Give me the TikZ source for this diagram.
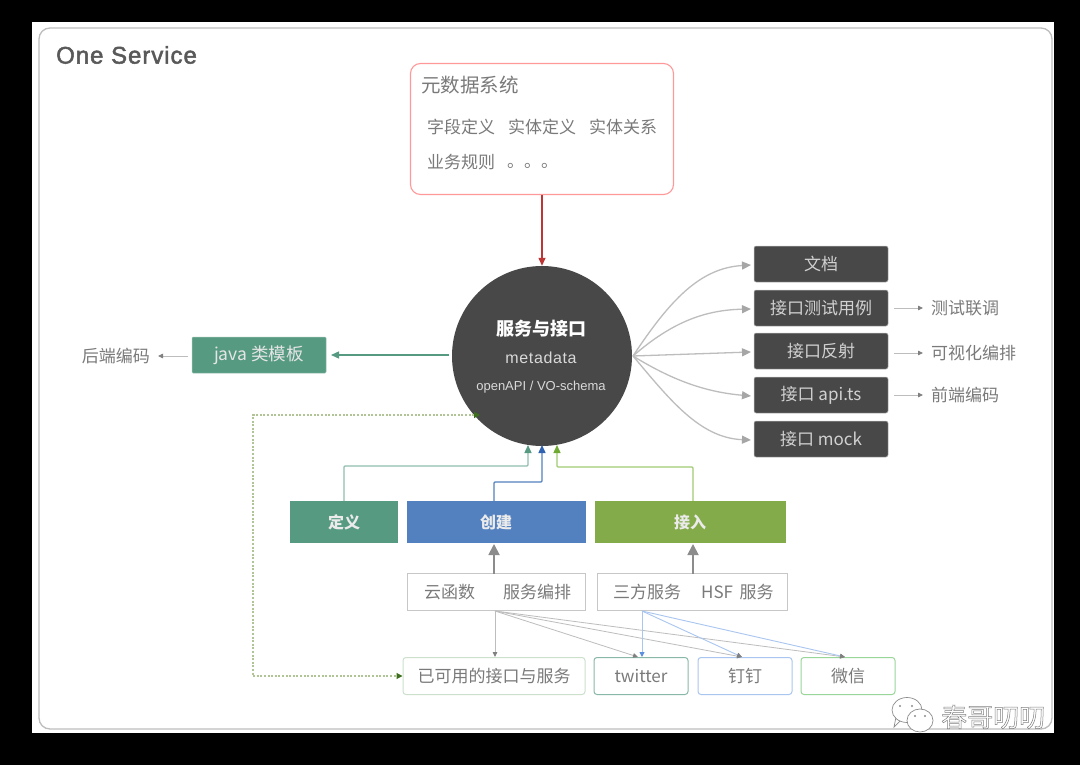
\documentclass[tikz,border=0pt]{standalone}
\usepackage{fontspec}
\setmainfont{Liberation Sans}
\newfontfamily\cjk{Noto Sans CJK SC}
\newfontfamily\titlefont[LetterSpace=4]{Liberation Sans}
\newfontfamily\spacedfont[LetterSpace=4]{Liberation Sans}
\usetikzlibrary{arrows.meta,shapes.geometric}
\definecolor{darkbox}{HTML}{484848}
\definecolor{txtgray}{HTML}{7A7A7A}
\definecolor{linegray}{HTML}{BDBDBD}
\definecolor{tealfill}{HTML}{569A82}
\definecolor{bluefill}{HTML}{5381C0}
\definecolor{greenfill}{HTML}{84AB4A}
\definecolor{softblue}{HTML}{A9C6F0}
\definecolor{loopgreen}{HTML}{B0C496}
\definecolor{loophead}{HTML}{3C6E1E}
\definecolor{redline}{HTML}{BE3535}
\definecolor{bluehead}{HTML}{2F62B0}
\definecolor{greenhead}{HTML}{6FA832}
\definecolor{softgreen}{HTML}{A2CC74}
\definecolor{twhead}{HTML}{5B90E0}
\tikzset{
 x=1pt,y=-1pt,
 lbl/.style={text=txtgray,inner sep=0pt,font=\cjk\fontsize{17}{19}\selectfont},
 darkbtn/.style={draw=linegray,line width=.5pt,fill=darkbox,rounded corners=2pt,minimum width=134pt,minimum height=36pt,inner sep=0pt,text=white!82!black,font=\cjk\fontsize{17}{19}\selectfont},
 solidbtn/.style={minimum height=42pt,inner sep=0pt,text=white!92!black,font=\cjk\bfseries\fontsize{16}{18}\selectfont},
 plainbox/.style={draw=black!22,line width=.8pt,minimum height=37pt,inner sep=0pt,fill=white},
 chan/.style={line width=1pt,rounded corners=3pt,minimum height=37pt,inner sep=0pt,fill=white,text=txtgray,font=\cjk\fontsize{17}{19}\selectfont},
 fan/.style={draw=linegray,line width=1.3pt,-{Triangle[length=9pt,width=8pt,color=black!35]}},
 thin/.style={draw=linegray,line width=.8pt,-{Triangle[length=5pt,width=4.5pt,color=black!50]}},
 blueln/.style={draw=softblue,line width=.9pt,-{Triangle[length=5pt,width=4.5pt,color=black!50]}},
 wmshape/.style={draw=black!45,fill=white,line width=.7pt},
}
\begin{document}
\begin{tikzpicture}
\useasboundingbox (0,0) rectangle (1080,765);
\fill[black] (0,0) rectangle (1080,765);
\fill[white] (32,22) rectangle (1054,733);
\draw[linegray,line width=1.3pt,rounded corners=11pt] (39,28) rectangle (1052,729);
\node[anchor=west,inner sep=0pt,text=black!65,font=\titlefont\fontsize{24}{26}\selectfont] (title) at (56,55) {\special{pdf:code 2 Tr 0.5 w}One Service\special{pdf:code 0 Tr}};

% metadata box
\node[draw=red!40!white,line width=1.1pt,rounded corners=10pt,minimum width=263pt,minimum height=131pt,inner sep=0pt] (meta) at (542,129) {};
\node[lbl,font=\cjk\fontsize{19.5}{21}\selectfont,anchor=west] (metat) at (421,85) {元数据系统};
\node[lbl,anchor=west] (m1) at (427,127) {字段定义};
\node[lbl,anchor=west] (m2) at (508,127) {实体定义};
\node[lbl,anchor=west] (m3) at (589,127) {实体关系};
\node[lbl,anchor=west] (m4) at (427,162) {业务规则};
\node[lbl,anchor=west] (m5) at (507,166) {。。。};

% centre
\node[circle,fill=darkbox,minimum size=180pt,inner sep=0pt] (svc) at (542,356) {};
\node[text=white,inner sep=0pt,font=\cjk\bfseries\fontsize{18}{20}\selectfont] (s1) at (541,329) {服务与接口};
\node[text=white!85!black,inner sep=0pt,font=\spacedfont\fontsize{16}{18}\selectfont] (s2) at (541,358) {metadata};
\node[text=white!85!black,inner sep=0pt,font=\fontsize{13}{15}\selectfont] (s3) at (541,387) {openAPI / VO-schema};
\draw[draw=redline,line width=1.3pt,-{Triangle[length=8pt,width=7pt]}] (meta.south) -- (svc.north);

% left
\node[fill=tealfill,draw=tealfill!60!white,line width=.5pt,rounded corners=1pt,minimum width=134pt,minimum height=36pt,inner sep=0pt,text=white!90!black,font=\cjk\fontsize{17.5}{19}\selectfont] (java) at (259,355) {java 类模板};
\node[lbl,anchor=east] (backend) at (150,356) {后端编码};
\coordinate (jst) at (449,355);
\coordinate (jend) at (331,355);
\draw[tealfill,line width=1.3pt,-{Triangle[length=8pt,width=7pt]}] (jst) -- (jend);
\coordinate (ja) at (188,356);
\coordinate (jb) at (158,356);
\draw[thin] (ja) -- (jb);

% right
\node[darkbtn] (d1) at (821,264) {文档};
\node[darkbtn] (d2) at (821,308) {接口测试用例};
\node[darkbtn] (d3) at (821,351) {接口反射};
\node[darkbtn] (d4) at (821,395) {接口 api.ts};
\node[darkbtn] (d5) at (821,439) {接口 mock};
\coordinate (hub) at (633,356);
\draw[fan] (hub) .. controls (670,300) and (700,268) .. (751,265);
\draw[fan] (hub) .. controls (672,322) and (705,310) .. (751,309);
\draw[fan] (hub) -- (751,352);
\draw[fan] (hub) .. controls (672,380) and (705,392) .. (751,396);
\draw[fan] (hub) .. controls (670,400) and (700,438) .. (751,440);
\node[lbl,anchor=west] (r2) at (931,308) {测试联调};
\node[lbl,anchor=west] (r3) at (931,353) {可视化编排};
\node[lbl,anchor=west] (r4) at (931,395) {前端编码};
\coordinate (a2) at (894,308);
\coordinate (a3) at (894,353);
\coordinate (a4) at (894,395);
\draw[thin] (a2) -- (923,308);
\draw[thin] (a3) -- (923,353);
\draw[thin] (a4) -- (923,395);

% actions
\node[solidbtn,fill=tealfill,minimum width=108pt] (def) at (344,522) {定义};
\node[solidbtn,fill=bluefill,minimum width=179pt] (cre) at (496,522) {创建};
\node[solidbtn,fill=greenfill,minimum width=191pt] (acc) at (690,522) {接入};
\draw[tealfill!65!white,line width=1.4pt,rounded corners=1pt,-{Triangle[length=8pt,width=7pt,color=tealfill]}] (def.north) |- (528,466) -- (528,445);
\draw[bluefill,line width=1.4pt,rounded corners=1pt,-{Triangle[length=8pt,width=7pt,color=bluehead]}] (cre.north -| 494,522) |- (542,482) -- (542,445);
\draw[softgreen,line width=1.4pt,rounded corners=1pt,-{Triangle[length=8pt,width=7pt,color=greenhead]}] (acc.north -| 693,522) |- (557,467) -- (557,445);

% sources
\node[plainbox,minimum width=178pt] (yun) at (496,592) {};
\node[lbl,anchor=west] (y1) at (424,592) {云函数};
\node[lbl,anchor=west] (y2) at (503,592) {服务编排};
\node[plainbox,minimum width=190pt] (san) at (692,592) {};
\node[lbl,anchor=west] (t1) at (613,592) {三方服务};
\node[lbl,anchor=west,font=\cjk\fontsize{17}{19}\selectfont] (t2) at (701,592) {HSF\, 服务};
\draw[black!45,line width=1.8pt,-{Triangle[length=11pt,width=11pt]}] (494,573.5) -- (494,544);
\draw[black!45,line width=1.8pt,-{Triangle[length=11pt,width=11pt]}] (693,573.5) -- (693,544);

% targets
\node[chan,draw=green!40!black!20!white,minimum width=182pt] (avail) at (494,676) {已可用的接口与服务};
\node[chan,draw=tealfill!70!white,minimum width=94pt] (tw) at (641,676) {twitter};
\node[chan,draw=softblue,minimum width=94pt] (dd) at (745,676) {钉钉};
\node[chan,draw=green!60!black!40!white,minimum width=94pt] (wx) at (848,676) {微信};

\coordinate (ys) at (495,611);
\coordinate (ss) at (642,611);
\draw[thin] (ys) -- (495,657);
\draw[thin] (ys) -- (638,657);
\draw[thin] (ys) -- (742,657);
\draw[thin] (ys) -- (845,657);
\draw[blueln,-{Triangle[length=5pt,width=5pt,color=twhead]}] (ss) -- (642,657);
\draw[blueln] (ss) -- (742,657);
\draw[blueln] (ss) -- (845,657);

% dashed loop
\draw[loopgreen,line width=1.1pt,dash pattern=on 2pt off 1.6pt,{Triangle[length=6pt,width=6pt,color=loophead]}-{Triangle[length=6pt,width=6pt,color=loophead]}] (480,415) -- (253,415) -- (253,676) -- (avail.west);

% watermark
\draw[wmshape] (900,721) -- (894,727) -- (896,717);
\draw[wmshape] (907,710) ellipse (15pt and 12.5pt);
\draw[wmshape] (920,720.5) ellipse (13pt and 11.5pt);
\foreach \ex/\ey in {900/706,912/706,915/716,925/716}
  \fill[black!45] (\ex,\ey) circle (1.1pt);
\node[inner sep=0pt,anchor=west,text=black!50,font=\cjk\fontsize{26}{28}\selectfont] (wmt) at (941,717) {\special{pdf:code 1 Tr 0.5 w}春哥叨叨\special{pdf:code 0 Tr}};
\end{tikzpicture}
\end{document}
